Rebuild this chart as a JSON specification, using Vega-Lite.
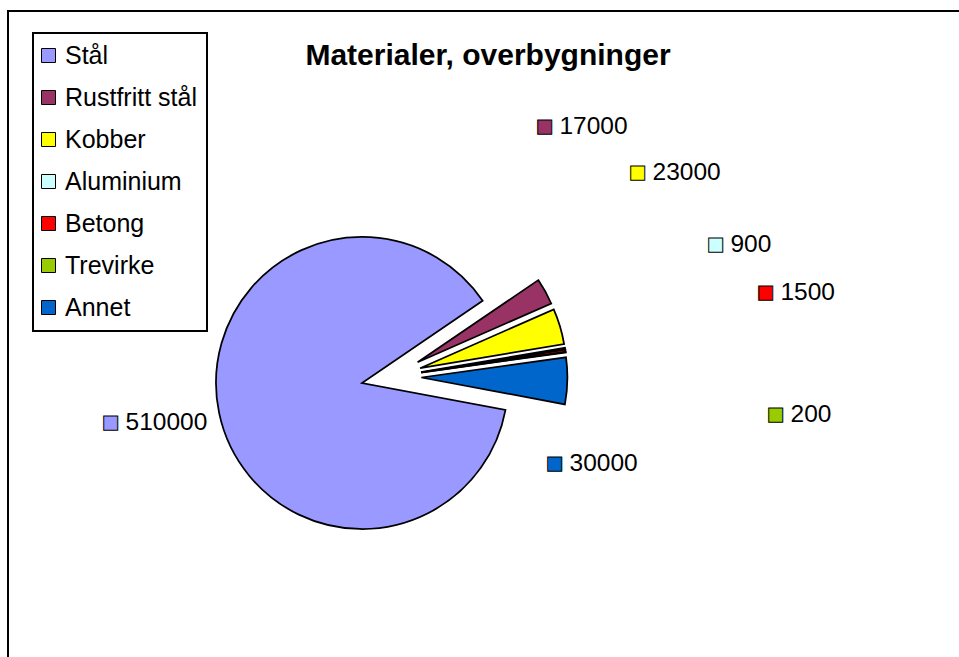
{
  "$schema": "https://vega.github.io/schema/vega-lite/v6.json",
  "width": 960,
  "height": 660,
  "autosize": {"type": "none"},
  "padding": {"left": 8, "top": 11, "right": 0, "bottom": 0},
  "background": "#ffffff",
  "view": {"stroke": "#000000", "strokeWidth": 2, "fill": "#ffffff"},
  "title": {"text": "Materialer, overbygninger", "anchor": "middle", "frame": "group", "offset": -84, "font": "Liberation Sans", "fontSize": 30, "fontWeight": "bold", "color": "#000000", "baseline": "alphabetic"},
  "data": {"values": [
    {"material": "Stål", "value": 510000, "order": 1},
    {"material": "Rustfritt stål", "value": 17000, "order": 2},
    {"material": "Kobber", "value": 23000, "order": 3},
    {"material": "Aluminium", "value": 900, "order": 4},
    {"material": "Betong", "value": 1500, "order": 5},
    {"material": "Trevirke", "value": 200, "order": 6},
    {"material": "Annet", "value": 30000, "order": 7}
  ]},
  "transform": [{"stack": "value", "groupby": [], "sort": [{"field": "order", "order": "ascending"}], "as": ["v0", "v1"]}],
  "encoding": {
    "theta": {"field": "v0", "type": "quantitative", "stack": null, "scale": {"domain": [0, 582600], "range": [1.7558, 8.0390], "nice": false}}
  },
  "layer": [
    {"transform": [{"filter": "datum.material === 'Stål'"}],
     "mark": {"type": "arc", "outerRadius": 146, "xOffset": -126, "yOffset": 42, "stroke": "#000000", "strokeWidth": 1.75, "strokeJoin": "miter"},
     "encoding": {"theta2": {"field": "v1"}, "color": {"field": "material", "type": "nominal", "scale": {"domain": ["Stål", "Rustfritt stål", "Kobber", "Aluminium", "Betong", "Trevirke", "Annet"], "range": ["#9999FF", "#993366", "#FFFF00", "#CCFFFF", "#FF0000", "#99CC00", "#0066CC"]}, "legend": {"title": null}}}},
    {"transform": [{"filter": "datum.material === 'Rustfritt stål'"}],
     "mark": {"type": "arc", "outerRadius": 146, "xOffset": -70.4, "yOffset": 21.3, "stroke": "#000000", "strokeWidth": 1.75, "strokeJoin": "miter"},
     "encoding": {"theta2": {"field": "v1"}, "color": {"field": "material", "type": "nominal", "legend": {"title": null}}}},
    {"transform": [{"filter": "datum.material === 'Kobber'"}],
     "mark": {"type": "arc", "outerRadius": 146, "xOffset": -67.9, "yOffset": 27.2, "stroke": "#000000", "strokeWidth": 1.75, "strokeJoin": "miter"},
     "encoding": {"theta2": {"field": "v1"}, "color": {"field": "material", "type": "nominal", "legend": {"title": null}}}},
    {"transform": [{"filter": "datum.material === 'Aluminium'"}],
     "mark": {"type": "arc", "outerRadius": 146, "xOffset": -67.0, "yOffset": 31.0, "stroke": "#000000", "strokeWidth": 1.75, "strokeJoin": "miter"},
     "encoding": {"theta2": {"field": "v1"}, "color": {"field": "material", "type": "nominal", "legend": {"title": null}}}},
    {"transform": [{"filter": "datum.material === 'Betong'"}],
     "mark": {"type": "arc", "outerRadius": 146, "xOffset": -66.9, "yOffset": 31.4, "stroke": "#000000", "strokeWidth": 1.75, "strokeJoin": "miter"},
     "encoding": {"theta2": {"field": "v1"}, "color": {"field": "material", "type": "nominal", "legend": {"title": null}}}},
    {"transform": [{"filter": "datum.material === 'Trevirke'"}],
     "mark": {"type": "arc", "outerRadius": 146, "xOffset": -66.9, "yOffset": 31.6, "stroke": "#000000", "strokeWidth": 1.75, "strokeJoin": "miter"},
     "encoding": {"theta2": {"field": "v1"}, "color": {"field": "material", "type": "nominal", "legend": {"title": null}}}},
    {"transform": [{"filter": "datum.material === 'Annet'"}],
     "mark": {"type": "arc", "outerRadius": 146, "xOffset": -66.6, "yOffset": 36.5, "stroke": "#000000", "strokeWidth": 1.75, "strokeJoin": "miter"},
     "encoding": {"theta2": {"field": "v1"}, "color": {"field": "material", "type": "nominal", "legend": {"title": null}}}},

    {"transform": [{"filter": "datum.material === 'Stål'"}],
     "layer": [
       {"mark": {"type": "text", "text": "■", "radius": 386.3, "thetaOffset": 2.7426, "font": "Liberation Sans", "fontSize": 29, "align": "center", "baseline": "middle", "stroke": "#000000", "strokeWidth": 1}, "encoding": {"color": {"field": "material", "type": "nominal", "legend": null}}},
       {"mark": {"type": "text", "radius": 386.3, "thetaOffset": 2.7426, "font": "Liberation Sans", "fontSize": 24.5, "align": "left", "dx": 15, "baseline": "middle", "fill": "#000000"}, "encoding": {"text": {"field": "value", "type": "quantitative", "format": "d"}}}
     ]},
    {"transform": [{"filter": "datum.material === 'Rustfritt stål'"}],
     "layer": [
       {"mark": {"type": "text", "text": "■", "radius": 221.3, "thetaOffset": -0.7147, "font": "Liberation Sans", "fontSize": 29, "align": "center", "baseline": "middle", "stroke": "#000000", "strokeWidth": 1}, "encoding": {"color": {"field": "material", "type": "nominal", "legend": null}}},
       {"mark": {"type": "text", "radius": 221.3, "thetaOffset": -0.7147, "font": "Liberation Sans", "fontSize": 24.5, "align": "left", "dx": 15, "baseline": "middle", "fill": "#000000"}, "encoding": {"text": {"field": "value", "type": "quantitative", "format": "d"}}}
     ]},
    {"transform": [{"filter": "datum.material === 'Kobber'"}],
     "layer": [
       {"mark": {"type": "text", "text": "■", "radius": 224.9, "thetaOffset": -0.4290, "font": "Liberation Sans", "fontSize": 29, "align": "center", "baseline": "middle", "stroke": "#000000", "strokeWidth": 1}, "encoding": {"color": {"field": "material", "type": "nominal", "legend": null}}},
       {"mark": {"type": "text", "radius": 224.9, "thetaOffset": -0.4290, "font": "Liberation Sans", "fontSize": 24.5, "align": "left", "dx": 15, "baseline": "middle", "fill": "#000000"}, "encoding": {"text": {"field": "value", "type": "quantitative", "format": "d"}}}
     ]},
    {"transform": [{"filter": "datum.material === 'Aluminium'"}],
     "layer": [
       {"mark": {"type": "text", "text": "■", "radius": 246.9, "thetaOffset": -0.2327, "font": "Liberation Sans", "fontSize": 29, "align": "center", "baseline": "middle", "stroke": "#000000", "strokeWidth": 1}, "encoding": {"color": {"field": "material", "type": "nominal", "legend": null}}},
       {"mark": {"type": "text", "radius": 246.9, "thetaOffset": -0.2327, "font": "Liberation Sans", "fontSize": 24.5, "align": "left", "dx": 15, "baseline": "middle", "fill": "#000000"}, "encoding": {"text": {"field": "value", "type": "quantitative", "format": "d"}}}
     ]},
    {"transform": [{"filter": "datum.material === 'Betong'"}],
     "layer": [
       {"mark": {"type": "text", "text": "■", "radius": 281.6, "thetaOffset": -0.0145, "font": "Liberation Sans", "fontSize": 29, "align": "center", "baseline": "middle", "stroke": "#000000", "strokeWidth": 1}, "encoding": {"color": {"field": "material", "type": "nominal", "legend": null}}},
       {"mark": {"type": "text", "radius": 281.6, "thetaOffset": -0.0145, "font": "Liberation Sans", "fontSize": 24.5, "align": "left", "dx": 15, "baseline": "middle", "fill": "#000000"}, "encoding": {"text": {"field": "value", "type": "quantitative", "format": "d"}}}
     ]},
    {"transform": [{"filter": "datum.material === 'Trevirke'"}],
     "layer": [
       {"mark": {"type": "text", "text": "■", "radius": 296.9, "thetaOffset": 0.3925, "font": "Liberation Sans", "fontSize": 29, "align": "center", "baseline": "middle", "stroke": "#000000", "strokeWidth": 1}, "encoding": {"color": {"field": "material", "type": "nominal", "legend": null}}},
       {"mark": {"type": "text", "radius": 296.9, "thetaOffset": 0.3925, "font": "Liberation Sans", "fontSize": 24.5, "align": "left", "dx": 15, "baseline": "middle", "fill": "#000000"}, "encoding": {"text": {"field": "value", "type": "quantitative", "format": "d"}}}
     ]},
    {"transform": [{"filter": "datum.material === 'Annet'"}],
     "layer": [
       {"mark": {"type": "text", "text": "■", "radius": 139.8, "thetaOffset": 1.2135, "font": "Liberation Sans", "fontSize": 29, "align": "center", "baseline": "middle", "stroke": "#000000", "strokeWidth": 1}, "encoding": {"color": {"field": "material", "type": "nominal", "legend": null}}},
       {"mark": {"type": "text", "radius": 139.8, "thetaOffset": 1.2135, "font": "Liberation Sans", "fontSize": 24.5, "align": "left", "dx": 15, "baseline": "middle", "fill": "#000000"}, "encoding": {"text": {"field": "value", "type": "quantitative", "format": "d"}}}
     ]}
  ],
  "config": {
    "font": "Liberation Sans",
    "view": {"stroke": "#000000", "strokeWidth": 2},
    "legend": {
      "orient": "none", "legendX": 25, "legendY": 22, "direction": "vertical",
      "strokeColor": "#000000", "strokeWidth": 2, "fillColor": "#ffffff", "padding": 10,
      "symbolType": "square", "symbolSize": 196, "symbolStrokeColor": "#000000", "symbolStrokeWidth": 1, "symbolOpacity": 1, "symbolOffset": -7,
      "labelFont": "Liberation Sans", "labelFontSize": 25, "labelColor": "#000000", "labelOffset": 4, "rowPadding": 16, "labelLimit": 300
    }
  }
}
